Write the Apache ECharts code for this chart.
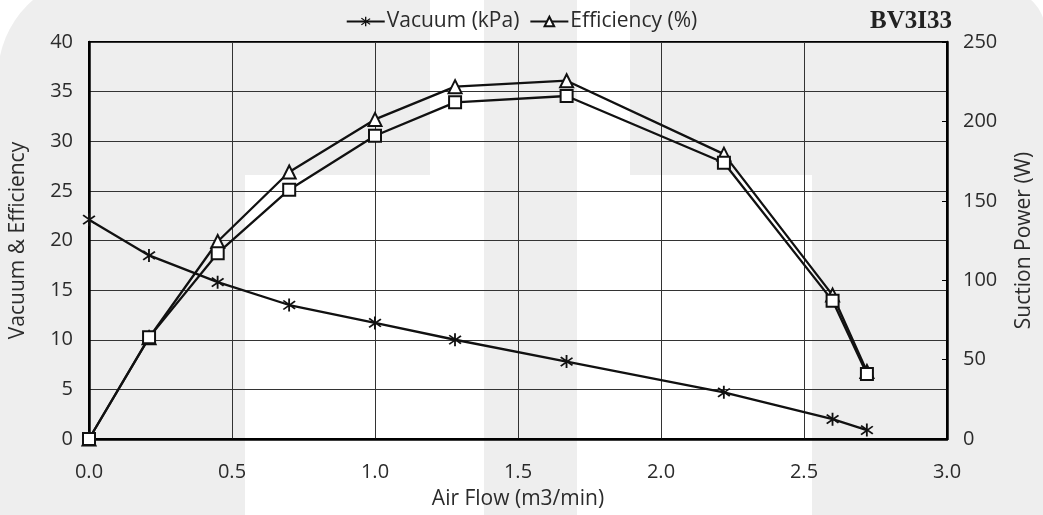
<!DOCTYPE html>
<html>
<head>
<meta charset="utf-8">
<script src="https://cdn.jsdelivr.net/npm/echarts@6/dist/echarts.min.js"></script>
<style>
html,body{margin:0;padding:0;background:#fff;}
#chart{width:1043px;height:515px;}
</style>
</head>
<body>
<div id="chart"></div>
<script>
const airFlow = [0, 0.21, 0.45, 0.70, 1.00, 1.28, 1.67, 2.22, 2.60, 2.72];
const vacuum = [22.1, 18.5, 15.8, 13.5, 11.7, 10.0, 7.8, 4.7, 2.0, 0.9];
const efficiency = [0, 10.2, 19.9, 26.9, 32.2, 35.5, 36.1, 28.7, 14.5, 6.8];
const suctionPower = [0, 64, 117, 157, 191, 212, 216, 174, 87, 41];
const leftTicks = [0, 5, 10, 15, 20, 25, 30, 35, 40];
const rightTicks = [0, 50, 100, 150, 200, 250];
const xTicks = [0, 0.5, 1.0, 1.5, 2.0, 2.5, 3.0];

const FONT = '"Open Sans", sans-serif';
const TXT = '#2b2b2b';
const asterisk = 'path://M44 0H56V100H44Z M16 11L93 75L85 84L8 20Z M8 80L85 16L93 25L16 89Z';

const pair = (xs, ys) => xs.map((x, i) => [x, ys[i]]);
const GRAY = '#eeeeee';

const chart = echarts.init(document.getElementById('chart'));
chart.setOption({
  animation: false,
  backgroundColor: '#ffffff',
  graphic: {
    elements: [
      { type: 'rect', z: -100, shape: { x: -2, y: -24, width: 432, height: 199, r: [100, 0, 0, 0] }, style: { fill: GRAY } },
      { type: 'rect', z: -100, shape: { x: 0, y: 150, width: 245, height: 370 }, style: { fill: GRAY } },
      { type: 'rect', z: -100, shape: { x: 484, y: 0, width: 93, height: 520 }, style: { fill: GRAY } },
      { type: 'rect', z: -100, shape: { x: 630, y: -9.6, width: 415, height: 184.6, r: [0, 40, 0, 0] }, style: { fill: GRAY } },
      { type: 'rect', z: -100, shape: { x: 812, y: 150, width: 240, height: 370 }, style: { fill: GRAY } }
    ]
  },
  title: {
    text: 'BV3I33',
    right: 86,
    top: 4,
    textStyle: { fontFamily: '"Liberation Serif", serif', fontWeight: 'bold', fontSize: 25, color: '#222' }
  },
  legend: {
    data: ['Vacuum (kPa)', 'Efficiency (%)'],
    left: 'center',
    top: 6,
    itemWidth: 38,
    itemHeight: 12,
    itemGap: 10,
    textStyle: { fontFamily: FONT, fontSize: 21, color: TXT, padding: [0, 0, 0, -3] }
  },
  grid: {
    left: 88, right: 90, top: 42, bottom: 76,
    show: true, borderColor: '#000', borderWidth: 2, backgroundColor: 'transparent'
  },
  xAxis: {
    type: 'value',
    min: 0, max: 3, interval: 0.5,
    name: 'Air Flow (m3/min)',
    nameLocation: 'middle',
    nameGap: 50,
    nameTextStyle: { fontFamily: FONT, fontSize: 21, color: TXT },
    axisLine: { show: true, lineStyle: { color: '#000', width: 2.5 } },
    axisTick: { show: false },
    axisLabel: { fontFamily: FONT, fontSize: 20, color: TXT, margin: 23, formatter: v => v.toFixed(1) },
    splitLine: { show: true, lineStyle: { color: '#333', width: 1 } }
  },
  yAxis: [
    {
      type: 'value',
      min: 0, max: 40, interval: 5,
      name: 'Vacuum & Efficiency',
      nameLocation: 'middle',
      nameGap: 60,
      nameTextStyle: { fontFamily: FONT, fontSize: 21, color: TXT },
      axisLine: { show: true, lineStyle: { color: '#000', width: 2.5 } },
      axisTick: { show: false },
      axisLabel: { fontFamily: FONT, fontSize: 20, color: TXT, margin: 16 },
      splitLine: { show: true, lineStyle: { color: '#333', width: 1 } }
    },
    {
      type: 'value',
      position: 'right',
      min: 0, max: 250, interval: 50,
      name: 'Suction Power (W)',
      nameLocation: 'middle',
      nameGap: 67,
      nameRotate: 90,
      nameTextStyle: { fontFamily: FONT, fontSize: 21, color: TXT },
      axisLine: { show: true, lineStyle: { color: '#000', width: 2.5 } },
      axisTick: { show: true, inside: true, length: 5, lineStyle: { color: '#000', width: 1 } },
      axisLabel: { fontFamily: FONT, fontSize: 20, color: TXT, margin: 16 },
      splitLine: { show: false }
    }
  ],
  series: [
    {
      name: 'Vacuum (kPa)',
      type: 'line',
      yAxisIndex: 0,
      data: pair(airFlow, vacuum),
      symbol: asterisk,
      symbolSize: 13,
      lineStyle: { color: '#111', width: 2.3 },
      itemStyle: { color: '#111' },
      z: 3
    },
    {
      name: 'Efficiency (%)',
      type: 'line',
      yAxisIndex: 0,
      data: pair(airFlow, efficiency),
      symbol: 'emptyTriangle',
      symbolSize: 13,
      lineStyle: { color: '#111', width: 2.3 },
      itemStyle: { color: '#111', borderColor: '#111', borderWidth: 1.6 },
      z: 3
    },
    {
      name: 'Suction Power (W)',
      type: 'line',
      yAxisIndex: 1,
      data: pair(airFlow, suctionPower),
      symbol: 'emptyRect',
      symbolSize: 12,
      lineStyle: { color: '#111', width: 2.3 },
      itemStyle: { color: '#111', borderColor: '#111', borderWidth: 1.6 },
      z: 3
    }
  ]
});
</script>
</body>
</html>
